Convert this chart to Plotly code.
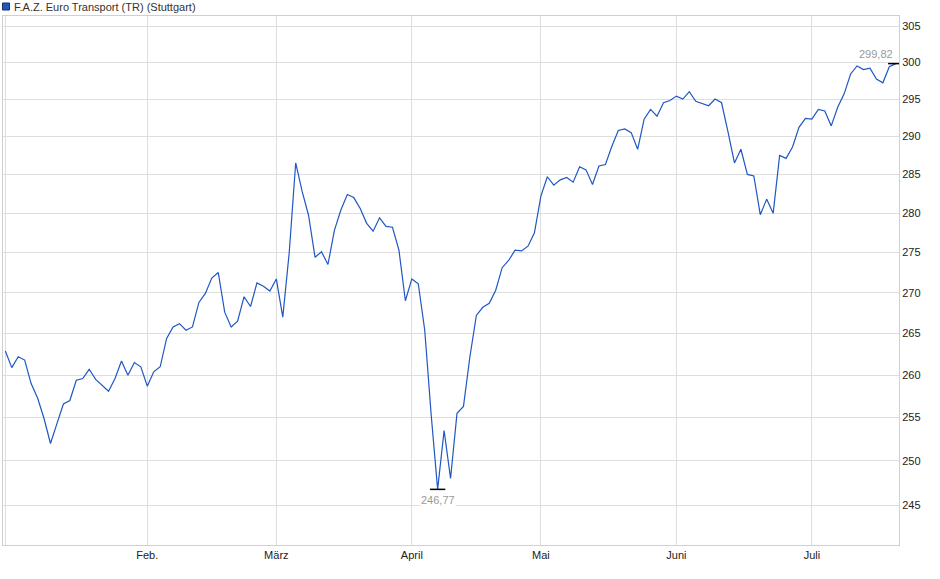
import math
import pandas as pd
import plotly.graph_objects as go

# ---- data -------------------------------------------------------------
holidays = ["2025-04-18", "2025-04-21", "2025-05-01"]
trading_days = [d for d in pd.bdate_range("2025-01-02", "2025-07-18")
                if d.strftime("%Y-%m-%d") not in holidays]
dates = [d.strftime("%Y-%m-%d") for d in trading_days]

values = [
    # Jan
    262.9, 260.9, 262.2, 261.8, 259.0, 257.3, 254.9, 252.0, 254.3, 256.6, 257.0,
    259.4, 259.6, 260.7, 259.5, 258.8, 258.1, 259.6, 261.7, 260.0, 261.5, 261.0,
    # Feb
    258.7, 260.4, 261.0, 264.4, 265.8, 266.2, 265.4, 265.8, 268.8, 269.9,
    271.8, 272.5, 267.6, 265.8, 266.5, 269.5, 268.3, 271.2, 270.8, 270.2,
    # Mar
    271.7, 267.0, 275.0, 286.5, 282.8, 279.7, 274.4, 275.1, 273.5, 277.8, 280.4,
    282.4, 282.0, 280.6, 278.7, 277.7, 279.4, 278.3, 278.2, 275.3, 269.0,
    # Apr
    271.7, 271.1, 265.4, 255.3, 246.77, 253.5, 248.0, 255.5, 256.3, 262.2,
    267.2, 268.2, 268.7, 270.3, 273.1, 274.0, 275.3, 275.2, 275.8, 277.5,
    # May
    282.2, 284.7, 283.6, 284.3, 284.6, 284.0, 286.0, 285.6, 283.7, 286.1, 286.3,
    288.7, 290.8, 291.0, 290.5, 288.3, 292.3, 293.6, 292.7, 294.5, 294.8,
    # Jun
    295.4, 295.0, 296.0, 294.7, 294.4, 294.1, 295.0, 294.5, 290.6, 286.5, 288.3,
    285.0, 284.8, 279.8, 281.8, 280.0, 287.5, 287.1, 288.6, 291.2, 292.4,
    # Jul
    292.3, 293.6, 293.4, 291.4, 293.9, 295.7, 298.4, 299.5, 299.0, 299.2,
    297.7, 297.2, 299.4, 299.82,
]

month_names = {1: "", 2: "Feb.", 3: "März", 4: "April", 5: "Mai", 6: "Juni", 7: "Juli"}
y_ticks = [245, 250, 255, 260, 265, 270, 275, 280, 285, 290, 295, 300, 305]
series_name = "F.A.Z. Euro Transport (TR) (Stuttgart)"

# month-start ticks (first trading day of each month)
tick_vals, tick_text, seen = [], [], set()
for d in trading_days:
    if d.month not in seen:
        seen.add(d.month)
        tick_vals.append(d.strftime("%Y-%m-%d"))
        tick_text.append(month_names[d.month])

i_min = values.index(min(values))
i_max = values.index(max(values))

def fmt(v):
    return f"{v:.2f}".replace(".", ",")

FONT = "Liberation Sans, Arial, sans-serif"
LINE = "#1f57c3"

fig = go.Figure()
fig.add_trace(go.Scatter(
    x=dates, y=values, mode="lines",
    line=dict(color=LINE, width=1.2), hoverinfo="x+y", showlegend=False,
))
fig.add_trace(go.Scatter(
    x=[dates[i_min], dates[i_max]], y=[values[i_min], values[i_max]],
    mode="markers", showlegend=False, hoverinfo="skip",
    marker=dict(symbol="line-ew", size=11, color="black",
                line=dict(color="black", width=1.5)),
))

fig.add_annotation(x=dates[i_min], y=math.log10(values[i_min]), text=fmt(values[i_min]),
                   showarrow=False, xanchor="center", yanchor="top", yshift=-4,
                   font=dict(family=FONT, size=11, color="#9a9a9a"), bgcolor="white",
                   borderpad=0)
fig.add_annotation(x=dates[i_max], y=math.log10(values[i_max]), text=fmt(values[i_max]),
                   showarrow=False, xanchor="right", yanchor="bottom", xshift=-2, yshift=3,
                   font=dict(family=FONT, size=11, color="#9a9a9a"), bgcolor="white",
                   borderpad=0)

# legend-like title
plot_w = 940 - 3 - 41
plot_h = 579 - 16 - 34
fig.add_shape(type="rect", xref="paper", yref="paper",
              x0=(2.5 - 3) / plot_w, x1=(9.5 - 3) / plot_w,
              y0=1 + (16 - 10) / plot_h, y1=1 + (16 - 3) / plot_h,
              fillcolor=LINE, line=dict(color="#1b2f6b", width=1))
fig.add_annotation(xref="paper", yref="paper", x=(12 - 3) / plot_w, y=1 + (16 - 7) / plot_h,
                   text=series_name, showarrow=False, xanchor="left", yanchor="middle",
                   font=dict(family=FONT, size=11, color="#333333"))

fig.update_layout(
    width=940, height=579,
    margin=dict(l=3, r=41, t=16, b=34),
    paper_bgcolor="white", plot_bgcolor="white",
    font=dict(family=FONT, size=11, color="#222222"),
    xaxis=dict(
        type="category", range=[-0.36, len(values) - 0.5],
        tickmode="array", tickvals=tick_vals, ticktext=tick_text,
        showgrid=True, gridcolor="#dedede", gridwidth=1,
        showline=True, mirror=True, linecolor="#d0d0d0", linewidth=1,
        ticks="", zeroline=False, tickfont=dict(size=11, color="#222222"),
    ),
    yaxis=dict(
        type="log", side="right",
        range=[math.log10(240.57), math.log10(306.42)],
        tickmode="array", tickvals=y_ticks, ticktext=[str(v) for v in y_ticks],
        showgrid=True, gridcolor="#dedede", gridwidth=1,
        showline=True, mirror=True, linecolor="#d0d0d0", linewidth=1,
        ticks="", zeroline=False, tickfont=dict(size=11, color="#222222"),
        ticklabelstandoff=0,
    ),
)

fig.write_html("out.html", config={"displayModeBar": False},
               post_script="document.body.style.margin='0';document.body.style.overflow='hidden';")
